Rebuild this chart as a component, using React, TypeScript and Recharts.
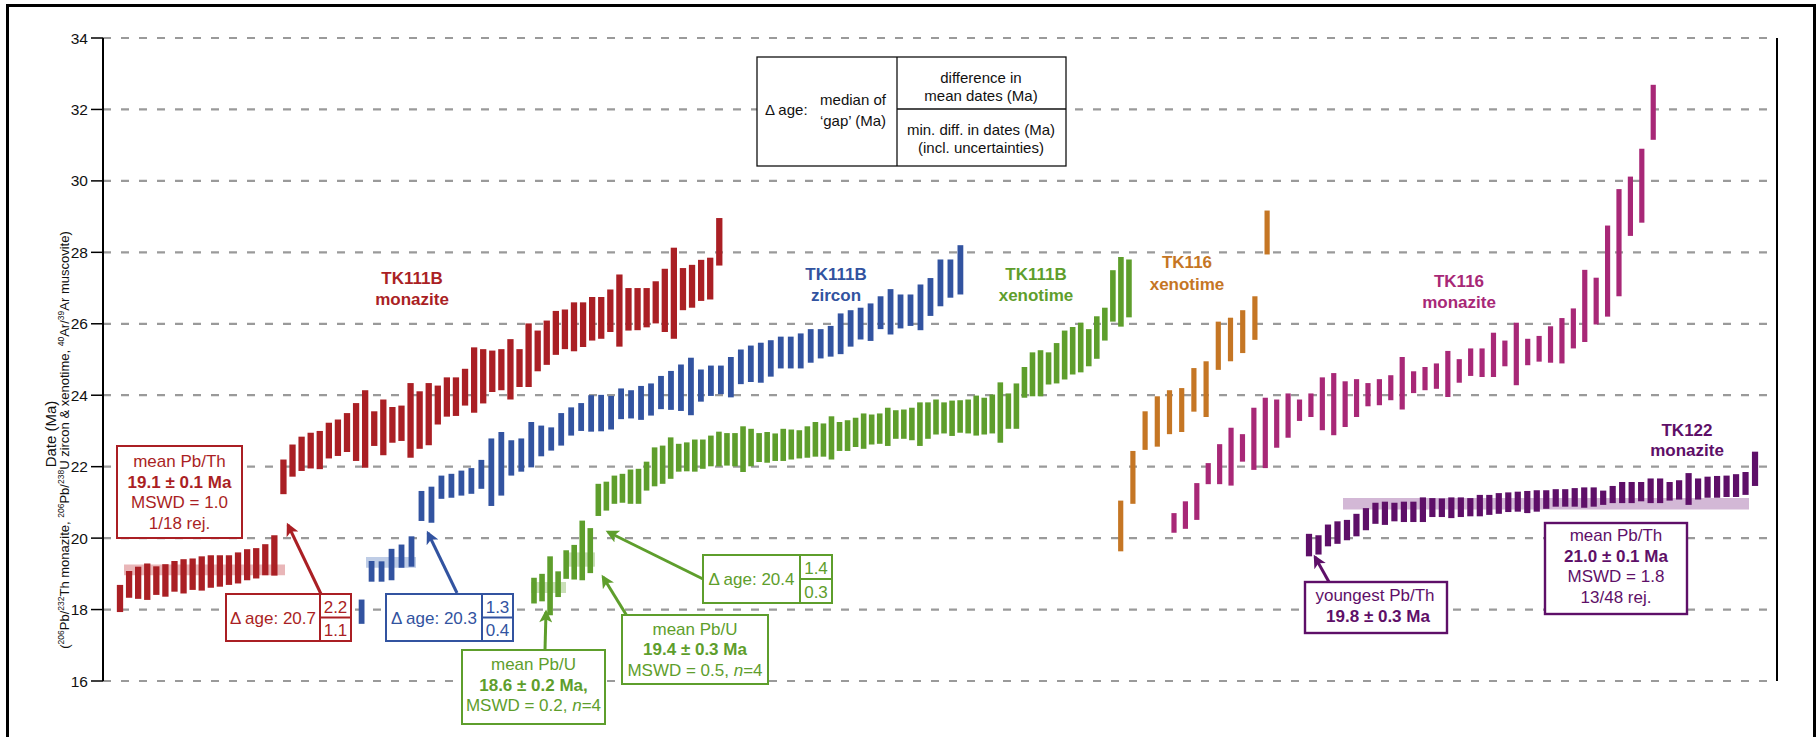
import React from "react";
import {
  ScatterChart,
  Scatter,
  ErrorBar,
  XAxis,
  YAxis,
  CartesianGrid,
  ReferenceArea,
  ReferenceLine,
} from "recharts";

const W = 1818;
const H = 737;
const FONT = '"Liberation Sans", Arial, Helvetica, sans-serif';

// dates of single analyses, [lower, upper] in Ma, in plotted (rank) order
const tk111bMonazite: [number, number][] = [
  [17.93, 18.69], [18.33, 19.08], [18.3, 19.2], [18.27, 19.29], [18.41, 19.21], [18.36, 19.27],
  [18.5, 19.36], [18.45, 19.41], [18.55, 19.43], [18.53, 19.49], [18.61, 19.52], [18.64, 19.52],
  [18.69, 19.52], [18.73, 19.6], [18.82, 19.69], [18.87, 19.72], [18.96, 19.83], [18.95, 20.08],
  [21.23, 22.2], [21.72, 22.62], [21.88, 22.84], [21.95, 22.95], [21.93, 23.0], [22.23, 23.23],
  [22.3, 23.32], [22.41, 23.5], [22.16, 23.78], [21.97, 24.14], [22.58, 23.55], [22.32, 23.88],
  [22.67, 23.67], [22.72, 23.71], [22.25, 24.34], [22.5, 24.11], [22.6, 24.34], [23.18, 24.27],
  [23.4, 24.5], [23.42, 24.5], [23.71, 24.74], [23.51, 25.34], [23.77, 25.29], [24.09, 25.25],
  [24.14, 25.29], [23.88, 25.57], [24.23, 25.29], [24.23, 26.01], [24.67, 25.81], [24.85, 26.09],
  [25.13, 26.36], [25.29, 26.4], [25.23, 26.6], [25.35, 26.6], [25.53, 26.75], [25.58, 26.75],
  [25.77, 26.96], [25.36, 27.38], [25.81, 27.0], [25.82, 27.0], [25.9, 27.0], [26.01, 27.19],
  [25.77, 27.54], [25.58, 28.13], [26.38, 27.56], [26.45, 27.65], [26.64, 27.79], [26.68, 27.85],
  [27.63, 28.96],
];

const tk111bZircon: [number, number][] = [
  [17.6, 18.28], [18.78, 19.36], [18.78, 19.35], [18.82, 19.7], [19.17, 19.82], [19.2, 20.05],
  [20.48, 21.32], [20.43, 21.44], [21.1, 21.75], [21.13, 21.8], [21.19, 21.89], [21.24, 21.96],
  [21.38, 22.19], [20.9, 22.79], [21.19, 22.97], [21.75, 22.74], [21.86, 22.79], [21.98, 23.25],
  [22.29, 23.15], [22.45, 23.1], [22.59, 23.5], [22.87, 23.66], [23.0, 23.78], [22.98, 24.0],
  [22.99, 24.01], [23.04, 23.98], [23.33, 24.19], [23.35, 24.14], [23.31, 24.26], [23.43, 24.33],
  [23.61, 24.54], [23.59, 24.68], [23.56, 24.86], [23.44, 25.05], [23.82, 24.72], [23.98, 24.83],
  [24.03, 24.83], [23.94, 25.07], [24.31, 25.28], [24.37, 25.39], [24.35, 25.47], [24.52, 25.54],
  [24.75, 25.64], [24.75, 25.64], [24.75, 25.73], [24.91, 25.85], [25.03, 25.85], [25.08, 25.94],
  [25.15, 26.29], [25.36, 26.38], [25.56, 26.45], [25.52, 26.57], [25.85, 26.77], [25.7, 26.97],
  [25.87, 26.82], [25.94, 26.82], [25.82, 27.1], [26.22, 27.28], [26.49, 27.8], [26.73, 27.8],
  [26.82, 28.2],
];

const tk111bXenotime: [number, number][] = [
  [18.17, 18.89], [18.23, 19.0], [17.84, 19.49], [18.35, 19.07], [18.86, 19.66], [18.84, 19.81],
  [18.82, 20.49], [19.02, 20.28],
  [20.62, 21.52], [20.77, 21.58], [20.96, 21.75], [20.99, 21.8], [20.96, 21.92], [20.96, 21.94],
  [21.33, 22.14], [21.45, 22.54], [21.52, 22.59], [21.66, 22.82], [21.86, 22.64], [21.87, 22.68],
  [21.86, 22.76], [21.94, 22.76], [22.01, 22.87], [22.01, 22.98], [22.03, 22.94], [22.01, 22.94],
  [21.85, 23.13], [22.01, 23.06], [22.13, 22.94], [22.11, 22.97], [22.16, 22.93], [22.16, 23.06],
  [22.2, 23.04], [22.23, 23.02], [22.25, 23.13], [22.28, 23.25], [22.28, 23.21], [22.2, 23.41],
  [22.44, 23.25], [22.44, 23.3], [22.55, 23.37], [22.5, 23.49], [22.62, 23.46], [22.64, 23.49],
  [22.58, 23.65], [22.78, 23.58], [22.78, 23.6], [22.74, 23.65], [22.58, 23.8], [22.78, 23.8],
  [22.9, 23.88], [22.93, 23.8], [22.86, 23.85], [22.95, 23.86], [22.93, 23.88], [22.87, 23.99],
  [22.9, 23.93], [22.93, 24.02], [22.67, 24.36], [23.06, 24.05], [23.06, 24.33], [23.93, 24.79],
  [23.97, 25.2], [23.97, 25.26], [24.3, 25.2], [24.33, 25.46], [24.44, 25.81], [24.58, 25.91],
  [24.64, 26.03], [24.81, 25.85], [25.02, 26.21], [25.53, 26.45], [26.06, 27.5], [25.92, 27.87],
  [26.18, 27.8],
];

const tk116Xenotime: [number, number][] = [
  [19.63, 21.05], [20.96, 22.44], [22.47, 23.55], [22.56, 23.97], [22.91, 24.14], [22.97, 24.2],
  [23.54, 24.76], [23.39, 24.95], [24.71, 26.06], [24.95, 26.17], [25.18, 26.38], [25.55, 26.77],
  [27.94, 29.17],
];

const tk116Monazite: [number, number][] = [
  [20.15, 20.7], [20.26, 21.03], [20.51, 21.54], [21.51, 22.1], [21.51, 22.63], [21.47, 23.09],
  [22.14, 22.91], [21.91, 23.65], [21.96, 23.93], [22.53, 23.88], [22.81, 24.05], [23.28, 23.88],
  [23.39, 24.05], [23.02, 24.5], [22.88, 24.62], [23.11, 24.39], [23.39, 24.45], [23.69, 24.34],
  [23.72, 24.45], [23.86, 24.56], [23.6, 25.07], [24.06, 24.67], [24.14, 24.79], [24.18, 24.89],
  [23.95, 25.24], [24.35, 25.01], [24.54, 25.31], [24.51, 25.31], [24.51, 25.75], [24.81, 25.53],
  [24.28, 26.03], [24.84, 25.58], [24.94, 25.66], [24.91, 25.93], [24.89, 26.16], [25.31, 26.43],
  [25.49, 27.51], [25.98, 27.29], [26.2, 28.75], [26.77, 29.77], [28.46, 30.12], [28.83, 30.9],
  [31.15, 32.69],
];

const tk122Monazite: [number, number][] = [
  [19.49, 20.12], [19.54, 20.08], [19.77, 20.38], [19.84, 20.47], [19.94, 20.51], [20.05, 20.68],
  [20.22, 20.84], [20.4, 20.99], [20.37, 21.02], [20.47, 20.99], [20.45, 21.02], [20.45, 21.02],
  [20.45, 21.14], [20.59, 21.12], [20.59, 21.11], [20.56, 21.14], [20.59, 21.14], [20.61, 21.12],
  [20.61, 21.21], [20.65, 21.21], [20.68, 21.26], [20.73, 21.28], [20.74, 21.3], [20.7, 21.32],
  [20.74, 21.34], [20.82, 21.34], [20.88, 21.37], [20.88, 21.37], [20.88, 21.4], [20.85, 21.42],
  [20.88, 21.42], [20.93, 21.33], [20.98, 21.46], [20.98, 21.57], [20.98, 21.57], [21.03, 21.57],
  [20.98, 21.67], [20.98, 21.67], [21.05, 21.57], [21.08, 21.62], [20.93, 21.82], [21.08, 21.67],
  [21.13, 21.72], [21.13, 21.74], [21.15, 21.75], [21.15, 21.79], [21.21, 21.85], [21.46, 22.42],
];

// weighted means shown as pale bands: [x from, x to, lower, upper, colour]
const meanBands: [number, number, number, number, string][] = [
  [21, 182, 18.96, 19.26, "#e9b6b8"],
  [263, 313, 19.17, 19.47, "#bfcde6"],
  [428, 463, 18.46, 18.77, "#cadfb8"],
  [461, 492, 19.2, 19.6, "#cadfb8"],
  [1240, 1646, 20.8, 21.12, "#d3b8d6"],
];

const Y_TICKS = [16, 18, 20, 22, 24, 26, 28, 30, 32, 34];
const Y_MINOR = [17, 19, 21, 23, 25, 27, 29, 31, 33];
const X_MAX = 1674;

const RED = "#aa1f24";
const BLUE = "#3253a0";
const GREEN = "#5e9e2c";
const ORANGE = "#c57624";
const MAGENTA = "#a82877";
const PURPLE = "#5e0f68";

// where each run of analyses sits along the hidden x axis
const series = [
  { name: "TK111B monazite", data: tk111bMonazite, start: 17, step: 9.08, color: RED, w: 6.3 },
  { name: "TK111B zircon", data: tk111bZircon, start: 258.6, step: 9.98, color: BLUE, w: 5.8 },
  { name: "TK111B xenotime", data: tk111bXenotime, start: 431, step: 8.04, color: GREEN, w: 5.6 },
  { name: "TK116 xenotime", data: tk116Xenotime, start: 1017.7, step: 12.2, color: ORANGE, w: 5.2 },
  { name: "TK116 monazite", data: tk116Monazite, start: 1071, step: 11.41, color: MAGENTA, w: 5.2 },
  { name: "TK122 monazite", data: tk122Monazite, start: 1206, step: 9.49, color: PURPLE, w: 6.2 },
];

const toRows = (data: [number, number][], start: number, step: number) =>
  data.map(([lo, hi], i) => ({ x: start + i * step, y: (lo + hi) / 2, e: (hi - lo) / 2 }));

const txt = (x: number, y: number, s: React.ReactNode, color: string, opts: any = {}) => (
  <text x={x} y={y} fill={color} fontSize={opts.size ?? 17} fontWeight={opts.bold ? 700 : 400}
    textAnchor={opts.anchor ?? "middle"}>{s}</text>
);

function DeltaBox({ x, y, w, split, h, label, top, bottom, color }: any) {
  return (
    <g>
      <rect x={x} y={y} width={w} height={h} fill="#fff" stroke={color} strokeWidth={2} />
      <line x1={split} y1={y} x2={split} y2={y + h} stroke={color} strokeWidth={2} />
      <line x1={split} y1={y + h / 2} x2={x + w} y2={y + h / 2} stroke={color} strokeWidth={2} />
      {txt((x + split) / 2, y + h / 2 + 6, label, color)}
      {txt((split + x + w) / 2, y + h / 2 - 5, top, color)}
      {txt((split + x + w) / 2, y + h - 5, bottom, color)}
    </g>
  );
}

function Arrow({ x1, y1, x2, y2, color, id }: any) {
  return <line x1={x1} y1={y1} x2={x2} y2={y2} stroke={color} strokeWidth={3} markerEnd={`url(#${id})`} />;
}

function Overlay() {
  const marks = [["r", RED], ["b", BLUE], ["g", GREEN], ["p", PURPLE]];
  return (
    <svg width={W} height={H} style={{ position: "absolute", left: 0, top: 0 }} fontFamily={FONT}>
      <defs>
        {marks.map(([id, c]) => (
          <marker key={id} id={`ah-${id}`} viewBox="0 0 10 10" refX={8} refY={5} markerWidth={15}
            markerHeight={13} markerUnits="userSpaceOnUse" orient="auto">
            <path d="M0,0 L10,5 L0,10 L2.5,5 z" fill={c} />
          </marker>
        ))}
      </defs>

      {/* axis title */}
      <text transform="translate(56,434) rotate(-90)" textAnchor="middle" fontSize={15} fill="#111">Date (Ma)</text>
      <text transform="translate(69,440) rotate(-90)" textAnchor="middle" fontSize={13} fill="#111">
        (<tspan dy={-5} fontSize={8.5}>206</tspan><tspan dy={5}>Pb/</tspan>
        <tspan dy={-5} fontSize={8.5}>232</tspan><tspan dy={5}>Th monazite, </tspan>
        <tspan dy={-5} fontSize={8.5}>206</tspan><tspan dy={5}>Pb/</tspan>
        <tspan dy={-5} fontSize={8.5}>238</tspan><tspan dy={5}>U zircon &amp; xenotime, </tspan>
        <tspan dy={-5} fontSize={8.5}>40</tspan><tspan dy={5}>Ar/</tspan>
        <tspan dy={-5} fontSize={8.5}>39</tspan><tspan dy={5}>Ar muscovite)</tspan>
      </text>

      {/* legend table */}
      <g fill="#111" fontSize={15}>
        <rect x={757} y={57} width={309} height={109} fill="#fff" stroke="#111" strokeWidth={1.3} />
        <line x1={897} y1={57} x2={897} y2={166} stroke="#111" strokeWidth={1.3} />
        <line x1={897} y1={109} x2={1066} y2={109} stroke="#111" strokeWidth={1.3} />
        <text x={765} y={115}>Δ age:</text>
        <text x={853} y={105} textAnchor="middle">median of</text>
        <text x={853} y={126} textAnchor="middle">‘gap’ (Ma)</text>
        <text x={981} y={83} textAnchor="middle">difference in</text>
        <text x={981} y={101} textAnchor="middle">mean dates (Ma)</text>
        <text x={981} y={135} textAnchor="middle">min. diff. in dates (Ma)</text>
        <text x={981} y={153} textAnchor="middle">(incl. uncertainties)</text>
      </g>

      {/* sample names */}
      {txt(412, 284, "TK111B", RED, { bold: true })}
      {txt(412, 305, "monazite", RED, { bold: true })}
      {txt(836, 280, "TK111B", BLUE, { bold: true })}
      {txt(836, 301, "zircon", BLUE, { bold: true })}
      {txt(1036, 280, "TK111B", GREEN, { bold: true })}
      {txt(1036, 301, "xenotime", GREEN, { bold: true })}
      {txt(1187, 268, "TK116", ORANGE, { bold: true })}
      {txt(1187, 290, "xenotime", ORANGE, { bold: true })}
      {txt(1459, 287, "TK116", MAGENTA, { bold: true })}
      {txt(1459, 308, "monazite", MAGENTA, { bold: true })}
      {txt(1687, 436, "TK122", PURPLE, { bold: true })}
      {txt(1687, 456, "monazite", PURPLE, { bold: true })}

      {/* TK111B monazite */}
      <rect x={117} y={446} width={125} height={92} fill="#fff" stroke={RED} strokeWidth={2} />
      {txt(179.5, 467, "mean Pb/Th", RED)}
      {txt(179.5, 487.5, "19.1 ± 0.1 Ma", RED, { bold: true })}
      {txt(179.5, 508, "MSWD = 1.0", RED)}
      {txt(179.5, 528.5, "1/18 rej.", RED)}
      <Arrow x1={321} y1={594} x2={288} y2={525} color={RED} id="ah-r" />
      <DeltaBox x={226} y={594} w={125} h={47} split={320} label="Δ age: 20.7" top="2.2" bottom="1.1" color={RED} />

      {/* TK111B zircon */}
      <Arrow x1={457} y1={593} x2={428} y2={533} color={BLUE} id="ah-b" />
      <DeltaBox x={386} y={594} w={127} h={47} split={482} label="Δ age: 20.3" top="1.3" bottom="0.4" color={BLUE} />

      {/* TK111B xenotime */}
      <Arrow x1={703} y1={579} x2={608} y2={532} color={GREEN} id="ah-g" />
      <DeltaBox x={703} y={555} w={129} h={48} split={800} label="Δ age: 20.4" top="1.4" bottom="0.3" color={GREEN} />
      <Arrow x1={627} y1={616} x2={603} y2={577} color={GREEN} id="ah-g" />
      <rect x={622} y={615} width={146} height={69} fill="#fff" stroke={GREEN} strokeWidth={2} />
      {txt(695, 634.5, "mean Pb/U", GREEN)}
      {txt(695, 655, "19.4 ± 0.3 Ma", GREEN, { bold: true })}
      {txt(695, 675.5, <>MSWD = 0.5, <tspan fontStyle="italic">n</tspan>=4</>, GREEN)}
      <Arrow x1={545} y1={650} x2={546} y2={612} color={GREEN} id="ah-g" />
      <rect x={462} y={650} width={143} height={74} fill="#fff" stroke={GREEN} strokeWidth={2} />
      {txt(533.5, 670, "mean Pb/U", GREEN)}
      {txt(533.5, 690.5, "18.6 ± 0.2 Ma,", GREEN, { bold: true })}
      {txt(533.5, 711, <>MSWD = 0.2, <tspan fontStyle="italic">n</tspan>=4</>, GREEN)}

      {/* TK122 monazite */}
      <Arrow x1={1329} y1={582} x2={1315} y2={557} color={PURPLE} id="ah-p" />
      <rect x={1305} y={582} width={142} height={51} fill="#fff" stroke={PURPLE} strokeWidth={2.4} />
      {txt(1375, 601, "youngest Pb/Th", PURPLE)}
      {txt(1378, 622, "19.8 ± 0.3 Ma", PURPLE, { bold: true })}
      <rect x={1545} y={523} width={142} height={91} fill="#fff" stroke={PURPLE} strokeWidth={2.4} />
      {txt(1616, 541, "mean Pb/Th", PURPLE)}
      {txt(1616, 562, "21.0 ± 0.1 Ma", PURPLE, { bold: true })}
      {txt(1616, 582, "MSWD = 1.8", PURPLE)}
      {txt(1616, 603, "13/48 rej.", PURPLE)}
    </svg>
  );
}

export default function App() {
  return (
    <div style={{ position: "relative", width: W, height: H, background: "#fff", overflow: "hidden", fontFamily: FONT }}>
      <style>{`body{margin:0}`}</style>
      <ScatterChart width={W} height={H} margin={{ top: 38, right: 41, bottom: 56, left: 0 }}>
        <CartesianGrid vertical={false} stroke="#9a9a9a" strokeWidth={2.2} strokeDasharray="8 10" />
        <XAxis type="number" dataKey="x" domain={[0, X_MAX]} hide />
        <YAxis
          type="number"
          dataKey="y"
          domain={[16, 34]}
          ticks={Y_TICKS}
          interval={0}
          width={103}
          tickSize={12}
          tickMargin={3}
          axisLine={{ stroke: "#000", strokeWidth: 2 }}
          tickLine={{ stroke: "#000", strokeWidth: 1.5 }}
          tick={{ fill: "#111", fontSize: 15.5, fontFamily: FONT }}
        />
        <YAxis
          yAxisId="minor"
          type="number"
          domain={[16, 34]}
          ticks={Y_MINOR}
          interval={0}
          mirror
          width={0}
          tickSize={5}
          tick={false}
          axisLine={false}
          tickLine={{ stroke: "#000", strokeWidth: 1.5 }}
        />
        <ReferenceLine x={X_MAX} stroke="#000" strokeWidth={2} />
        {meanBands.map(([x1, x2, y1, y2, fill], i) => (
          <ReferenceArea key={i} x1={x1} x2={x2} y1={y1} y2={y2} fill={fill} fillOpacity={1} stroke="none" />
        ))}
        {series.map((s) => (
          <Scatter
            key={s.name}
            name={s.name}
            data={toRows(s.data, s.start, s.step)}
            dataKey="y"
            fill={s.color}
            shape={() => <g />}
            isAnimationActive={false}
          >
            <ErrorBar dataKey="e" direction="y" width={0} stroke={s.color} strokeWidth={s.w} isAnimationActive={false} />
          </Scatter>
        ))}
      </ScatterChart>
      <Overlay />
      <div
        style={{
          position: "absolute", left: 6, top: 4, width: 1810, height: 800, boxSizing: "border-box",
          border: "3px solid #000", borderBottom: "none", pointerEvents: "none",
        }}
      />
    </div>
  );
}
